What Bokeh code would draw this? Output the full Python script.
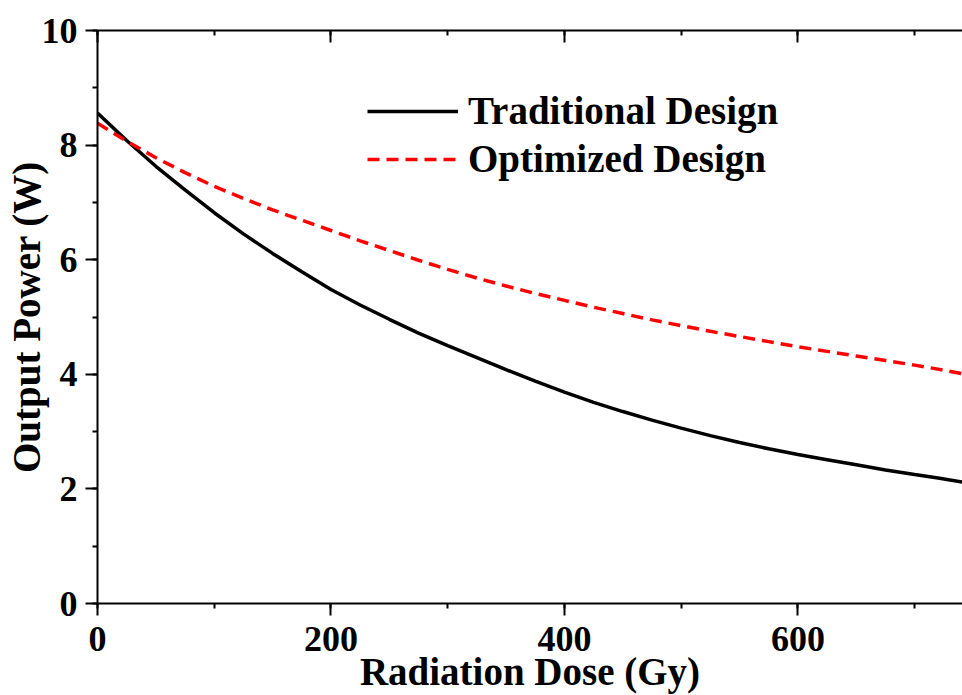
from bokeh.plotting import figure
from bokeh.models import Range1d, LinearAxis, SingleIntervalTicker, Legend, LegendItem
from bokeh.embed import file_html
from bokeh.resources import INLINE

# Data
dose = [0, 25, 50, 75, 100, 125, 150, 175, 200, 225, 250, 275, 300, 325, 350, 375, 400,
        425, 450, 475, 500, 525, 550, 575, 600, 625, 650, 675, 700, 720, 741]
power_traditional = [8.56, 8.08, 7.63, 7.22, 6.82, 6.45, 6.11, 5.79, 5.48, 5.21, 4.96, 4.72, 4.50,
                     4.29, 4.08, 3.88, 3.69, 3.51, 3.35, 3.20, 3.06, 2.93, 2.81, 2.70, 2.60,
                     2.51, 2.42, 2.33, 2.25, 2.19, 2.12]
power_optimized = [8.38, 8.07, 7.78, 7.52, 7.28, 7.07, 6.87, 6.69, 6.51, 6.33, 6.16, 5.99, 5.83,
                   5.68, 5.54, 5.41, 5.29, 5.17, 5.06, 4.95, 4.85, 4.75, 4.66, 4.57, 4.48,
                   4.40, 4.32, 4.24, 4.16, 4.09, 4.01]
series_names = ["Traditional Design", "Optimized Design"]
x_label = "Radiation Dose (Gy)"
y_label = "Output Power (W)"

FONT = "Liberation Serif"

p = figure(width=962, height=695, output_backend="svg", toolbar_location=None,
           x_range=Range1d(0, 741), y_range=Range1d(0, 10),
           x_axis_location=None, y_axis_location=None,
           min_border_left=97, min_border_right=0, min_border_top=30, min_border_bottom=92)
p.outline_line_color = None
p.xgrid.visible = False
p.ygrid.visible = False
p.background_fill_color = "white"
p.border_fill_color = "white"

def style_axis(ax):
    ax.axis_line_width = 2
    ax.major_tick_line_width = 2
    ax.minor_tick_line_width = 2
    ax.axis_line_color = "black"
    ax.major_tick_line_color = "black"
    ax.minor_tick_line_color = "black"
    ax.major_label_text_font = FONT
    ax.major_label_text_font_style = "bold"
    ax.major_label_text_font_size = "36px"
    ax.major_label_text_color = "black"
    ax.axis_label_text_font = FONT
    ax.axis_label_text_font_style = "bold"
    ax.axis_label_text_font_size = "39px"
    ax.axis_label_text_color = "black"

xax = LinearAxis(ticker=SingleIntervalTicker(interval=200, num_minor_ticks=2), axis_label=x_label)
style_axis(xax)
xax.major_tick_out = 12
xax.major_tick_in = 0
xax.minor_tick_out = 5
xax.minor_tick_in = 0
xax.major_label_standoff = 11
xax.axis_label_standoff = -4
p.add_layout(xax, "below")

yax = LinearAxis(ticker=SingleIntervalTicker(interval=2, num_minor_ticks=2), axis_label=y_label)
style_axis(yax)
yax.major_tick_out = 12
yax.major_tick_in = 0
yax.minor_tick_out = 5
yax.minor_tick_in = 0
yax.major_label_standoff = 8
yax.axis_label_standoff = -9
p.add_layout(yax, "left")

# top frame line with inward ticks, no labels
tax = LinearAxis(ticker=SingleIntervalTicker(interval=200, num_minor_ticks=2))
style_axis(tax)
tax.major_tick_out = 0
tax.major_tick_in = 12
tax.minor_tick_out = 0
tax.minor_tick_in = 5
tax.major_label_text_font_size = "0px"
tax.major_label_text_color = None
tax.major_label_standoff = 0
p.add_layout(tax, "above")

r1 = p.line(dose, power_traditional, line_color="black", line_width=3.5)
r2 = p.line(dose, power_optimized, line_color="#ff0000", line_width=3.5, line_dash="12 7")

legend = Legend(items=[LegendItem(label=series_names[0], renderers=[r1]),
                       LegendItem(label=series_names[1], renderers=[r2])],
                location=(270, 422))
legend.label_text_font = FONT
legend.label_text_font_style = "bold"
legend.label_text_font_size = "39px"
legend.label_text_color = "black"
legend.glyph_width = 91
legend.glyph_height = 44
legend.label_height = 44
legend.label_standoff = 10
legend.spacing = 3
legend.padding = 0
legend.margin = 0
legend.border_line_color = None
legend.background_fill_alpha = 0
p.add_layout(legend, "center")

open("out.html", "w").write(file_html(p, INLINE))
